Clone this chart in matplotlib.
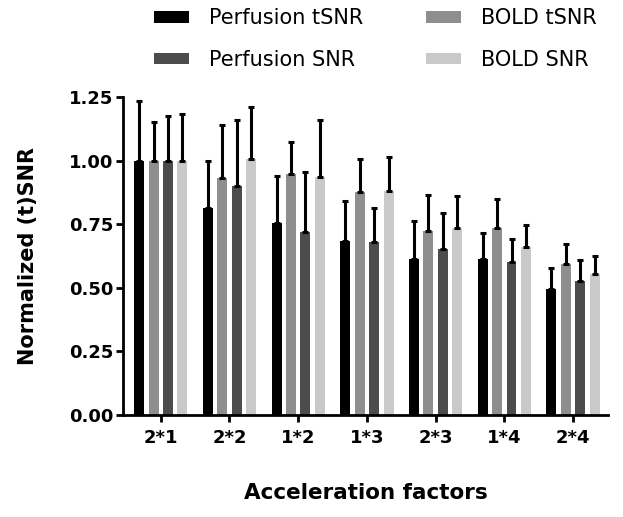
import matplotlib
matplotlib.use("Agg")
import matplotlib.pyplot as plt
import numpy as np

categories = ["2*1", "2*2", "1*2", "1*3", "2*3", "1*4", "2*4"]
series_names = ["Perfusion tSNR", "BOLD tSNR", "Perfusion SNR", "BOLD SNR"]
perf_tsnr = [1.00, 0.815, 0.756, 0.683, 0.613, 0.613, 0.494]
bold_tsnr = [1.00, 0.930, 0.946, 0.877, 0.723, 0.734, 0.595]
perf_snr = [1.00, 0.901, 0.719, 0.681, 0.651, 0.600, 0.525]
bold_snr = [1.00, 1.006, 0.934, 0.880, 0.734, 0.662, 0.556]
perf_tsnr_err = [0.235, 0.183, 0.185, 0.159, 0.148, 0.102, 0.083]
bold_tsnr_err = [0.152, 0.211, 0.128, 0.128, 0.140, 0.115, 0.076]
perf_snr_err = [0.175, 0.257, 0.236, 0.134, 0.143, 0.093, 0.086]
bold_snr_err = [0.182, 0.203, 0.227, 0.134, 0.127, 0.086, 0.070]
colors = ["#000000", "#8e8e8e", "#4c4c4c", "#c9c9c9"]

plt.rcParams['font.family'] = ['DejaVu Sans']

fig = plt.figure(figsize=(6.23, 5.17), dpi=100)
ax = fig.add_axes([0.1974, 0.1973, 0.976 - 0.1974, 0.8124 - 0.1973])

x = np.arange(len(categories))
vals = [perf_tsnr, bold_tsnr, perf_snr, bold_snr]
errs = [perf_tsnr_err, bold_tsnr_err, perf_snr_err, bold_snr_err]
step = 0.21
width = 0.145
handles = []
for i, (v, e, c, n) in enumerate(zip(vals, errs, colors, series_names)):
    pos = x + (i - 1.5) * step
    b = ax.bar(pos, v, width, color=c, label=n, zorder=2)
    ax.errorbar(pos, v, yerr=[np.zeros(len(e)), e], fmt='none', ecolor='black',
                elinewidth=2.2, capsize=2.5, capthick=2.2, zorder=3)
    handles.append(b)

ax.set_xlim(-0.55, 6.51)
ax.set_ylim(0, 1.25)
ax.set_yticks([0, 0.25, 0.5, 0.75, 1.0, 1.25])
ax.set_yticklabels(["0.00", "0.25", "0.50", "0.75", "1.00", "1.25"])
ax.set_xticks(x)
ax.set_xticklabels(categories)
for s in ["top", "right"]:
    ax.spines[s].set_visible(False)
for s in ["left", "bottom"]:
    ax.spines[s].set_linewidth(2)
ax.tick_params(axis='both', width=2, length=5, labelsize=13)
for lab in ax.get_xticklabels() + ax.get_yticklabels():
    lab.set_fontweight('bold')
ax.tick_params(axis='x', pad=5)
ax.tick_params(axis='y', pad=2)

ax.set_ylabel("Normalized (t)SNR", fontsize=15, fontweight='bold', labelpad=22)
ax.set_xlabel("Acceleration factors", fontsize=15.5, fontweight='bold', labelpad=26)

order = [handles[0], handles[2], handles[1], handles[3]]
labels = [series_names[0], series_names[2], series_names[1], series_names[3]]
fig.legend(order, labels, ncol=2, loc='upper left', bbox_to_anchor=(0.217, 1.02),
           frameon=False, fontsize=15, handlelength=1.7, handleheight=0.45,
           columnspacing=3.0, labelspacing=1.05, handletextpad=0.95)

fig.savefig("out.png", dpi=100)
